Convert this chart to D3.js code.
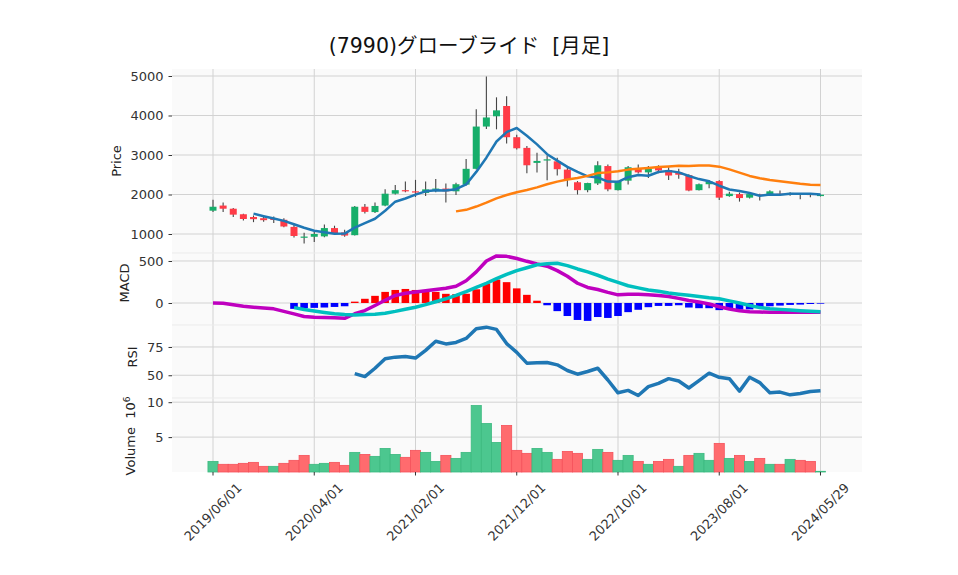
<!DOCTYPE html>
<html><head><meta charset="utf-8">
<script src="https://cdn.jsdelivr.net/npm/d3@7/dist/d3.min.js"></script>
<style>body{margin:0;background:#fff;} svg{display:block;}</style>
</head><body><svg id="c" width="958" height="575"></svg>
<script>
// ---------------- data ----------------
const titleText = "(7990)グローブライド  [月足]";
const tickIndex = [0, 10, 20, 30, 40, 50, 60];
const tickLabels = ["2019/06/01", "2020/04/01", "2021/02/01", "2021/12/01", "2022/10/01", "2023/08/01", "2024/05/29"];

const opens  = [1590,1720,1640,1500,1430,1400,1385,1360,1180,910, 930,940,1150,1040,970,1690,1555,1720,2020,2110, 2080,2040,2130,2150,2080,2250,2650,3720,3980,4240, 3450,3180,2800,2860,2840,2630,2310,2110,2280,2720, 2110,2350,2670,2560,2680,2620,2570,2490,2110,2260, 2340,1960,2010,1920,2000,2000,2020,1990,2020,2020, 1960];
const highs  = [1870,1800,1660,1510,1470,1430,1440,1400,1260,1030, 1050,1240,1210,1110,1710,1760,1800,2130,2240,2330, 2370,2330,2390,2280,2300,2900,4160,4990,4460,4490, 3510,3230,3060,2990,2930,2670,2340,2300,2840,2760, 2350,2720,2760,2720,2740,2690,2650,2510,2280,2370, 2360,2070,2050,2040,2020,2110,2100,2060,2040,2040, 2000];
const lows   = [1560,1560,1430,1340,1300,1310,1280,1170,910,760, 800,920,980,930,960,1520,1530,1700,2000,2060, 1940,1960,2060,1800,1990,2230,2630,3660,3650,3290, 3140,2540,2560,2360,2480,2200,2000,2060,2240,2080, 2100,2250,2530,2420,2540,2370,2400,2080,2100,2160, 1860,1940,1820,1900,1850,1990,1960,1970,1880,1930, 1950];
const closes = [1690,1640,1490,1380,1375,1350,1360,1190,950,935, 1000,1150,1010,960,1690,1560,1710,2020,2110,2090, 2050,2130,2150,2080,2260,2650,3720,3950,4130,3450, 3170,2740,2850,2890,2640,2370,2110,2290,2740,2130, 2340,2690,2560,2650,2610,2480,2500,2100,2260,2330, 1920,2020,1910,2010,1990,2080,1985,2040,1990,1985, 1995];
const volumes = [1520000,1100000,1100000,1240000,1380000,810000,810000,1240000,1670000,2380000, 1100000,1240000,1380000,950000,2810000,2520000,2240000,3380000,2520000,2100000, 3100000,2810000,1520000,2380000,1950000,2810000,9520000,6950000,4240000,6670000, 3100000,2670000,3380000,2810000,1810000,2950000,2670000,1810000,3240000,2810000, 1670000,2380000,1520000,1100000,1520000,1810000,810000,2380000,2670000,1670000, 4100000,1950000,2380000,1520000,1950000,1100000,1100000,1810000,1670000,1520000, 100000];

const ma5 = [null,null,null,null,1516,1451,1392,1332,1246,1157, 1084,1045,1009,1011,1162,1274,1386,1588,1818,1898, 1996,2080,2106,2100,2134,2254,2572,2932,3342,3580, 3684,3488,3268,3020,2858,2698,2572,2460,2430,2328, 2322,2438,2492,2474,2570,2598,2560,2468,2390,2334, 2222,2126,2088,2038,1970,2002,1995,2021,2017,2017, 2000];
const ma25 = [null,null,null,null,null,null,null,null,null,null, null,null,null,null,null,null,null,null,null,null, null,null,null,null,1573,1612,1695,1793,1903,1986, 2058,2114,2181,2258,2326,2381,2420,2471,2542,2560, 2591,2630,2652,2673,2694,2711,2726,2724,2731,2734, 2705,2637,2555,2470,2412,2368,2338,2306,2270,2244, 2240];

const macd = [0,-2,-20,-39,-50,-60,-70,-100,-130,-160, -171,-172,-175,-182,-128,-90,-30,32,90,115, 130,145,160,175,200,265,370,500,560,555, 530,496,465,438,385,318,235,185,160,126, 97,105,103,98,88,78,55,30,12,-12, -45,-72,-92,-104,-108,-110,-110,-110,-110,-110, -110];
const signal = [null,null,null,null,null,null,null,null,-55,-78, -95,-112,-128,-138,-142,-138,-133,-122,-100,-75, -50,-20,15,50,90,135,185,235,290,340, 385,420,455,468,473,445,405,370,330,285, 245,205,180,155,140,120,105,92,78,62, 50,25,0,-30,-55,-68,-76,-83,-92,-99, -105];
const hist = [null,null,null,null,null,null,null,null,-70,-62, -58,-54,-47,-39,16,50,85,132,155,167, 155,136,132,109,105,110,163,233,279,248, 174,97,27,-27,-97,-155,-202,-213,-167,-178, -155,-109,-81,-50,-35,-35,-27,-54,-62,-62, -85,-78,-78,-76,-58,-39,-31,-23,-19,-12, -8];
const rsi = [null,null,null,null,null,null,null,null,null,null, null,null,null,null,51.5,48.8,56.2,64.6,66,66.5, 65.2,72,80,77.7,79,82.5,91,92.5,90.5,78, 70.2,60.7,61,61.3,59.2,54.2,50.9,53.3,56.2,45.8, 34.5,36.6,32.1,39.9,42.9,47,44.9,38.7,45.2,51.8, 48.2,47,36,48.2,43.5,34.5,35.1,32.7,33.9,35.7, 36.3];

const priceTicks = [1000, 2000, 3000, 4000, 5000];
const macdTicks = [0, 500];
const rsiTicks = [50, 75];
const volTicks = [5, 10];

// ---------------- layout ----------------
const svg = d3.select("#c");
const L = 172, R = 862;
const P = {price: [69, 253], macd: [253, 325], rsi: [325, 398], vol: [398, 472]};
const fontMain = "'DejaVu Sans', 'Noto Sans CJK JP', sans-serif";

const x = d3.scaleLinear().domain([-4.05, 64.1]).range([L, R]);
const yP = d3.scaleLinear().domain([519, 5177]).range([P.price[1], P.price[0]]);
const yM = d3.scaleLinear().domain([-262, 595]).range([P.macd[1], P.macd[0]]);
const yR = d3.scaleLinear().domain([29.9, 94.4]).range([P.rsi[1], P.rsi[0]]);
const yV = d3.scaleLinear().domain([0, 10.6]).range([P.vol[1], P.vol[0]]);

const idx = d3.range(closes.length);
const gridColor = "#d2d2d2";

function panel(key, yScale, ticks, fmt) {
  const [t, b] = P[key];
  const g = svg.append("g");
  g.append("rect").attr("x", L).attr("y", t).attr("width", R - L).attr("height", b - t).attr("fill", "#fafafa");
  g.selectAll(null).data(ticks).enter().append("line")
    .attr("x1", L).attr("x2", R).attr("y1", d => yScale(d)).attr("y2", d => yScale(d))
    .attr("stroke", gridColor).attr("stroke-width", 1);
  g.selectAll(null).data(tickIndex).enter().append("line")
    .attr("x1", d => x(d)).attr("x2", d => x(d)).attr("y1", t).attr("y2", b)
    .attr("stroke", gridColor).attr("stroke-width", 1);
  const ax = d3.axisLeft(yScale).tickValues(ticks).tickSize(3.5).tickPadding(5).tickFormat(fmt || (d => d));
  const axg = svg.append("g").attr("transform", `translate(${L},0)`).call(ax);
  axg.select(".domain").remove();
  axg.selectAll("line").attr("stroke", "#333");
  axg.selectAll("text").attr("font-family", fontMain).attr("font-size", 13).attr("fill", "#333");
  return g;
}

panel("price", yP, priceTicks);
panel("macd", yM, macdTicks);
panel("rsi", yR, rsiTicks);
panel("vol", yV, volTicks);

[253, 325, 398].forEach(yy => svg.append("line").attr("x1", L).attr("x2", R).attr("y1", yy).attr("y2", yy).attr("stroke", "#ebebeb").attr("stroke-width", 1));

// ---------------- price candles ----------------
const upC = "#16ae6a", dnC = "#ff3b47";
const bw = 7;
const cg = svg.append("g");
cg.selectAll(null).data(idx).enter().append("line")
  .attr("x1", i => x(i)).attr("x2", i => x(i))
  .attr("y1", i => yP(highs[i])).attr("y2", i => yP(lows[i]))
  .attr("stroke", "#444").attr("stroke-width", 1.1);
cg.selectAll(null).data(idx).enter().append("rect")
  .attr("x", i => x(i) - bw / 2)
  .attr("y", i => yP(Math.max(opens[i], closes[i])))
  .attr("width", bw)
  .attr("height", i => Math.max(1.2, Math.abs(yP(opens[i]) - yP(closes[i]))))
  .attr("fill", i => closes[i] >= opens[i] ? upC : dnC);

function drawLine(arr, yScale, color, width) {
  svg.append("path").datum(idx)
    .attr("d", d3.line().defined(i => arr[i] != null).x(i => x(i)).y(i => yScale(arr[i])))
    .attr("fill", "none").attr("stroke", color).attr("stroke-width", width)
    .attr("stroke-linejoin", "round").attr("stroke-linecap", "butt");
}
drawLine(ma5, yP, "#1f77b4", 2.5);
drawLine(ma25, yP, "#ff7f0e", 2.5);

// ---------------- MACD ----------------
const hb = 7.6;
svg.append("g").selectAll(null).data(idx.filter(i => hist[i] != null)).enter().append("rect")
  .attr("x", i => x(i) - hb / 2)
  .attr("y", i => Math.min(yM(0), yM(hist[i])))
  .attr("width", hb)
  .attr("height", i => Math.abs(yM(hist[i]) - yM(0)))
  .attr("fill", i => hist[i] >= 0 ? "#ff0000" : "#0000ff");
drawLine(macd, yM, "#bf00bf", 3.5);
drawLine(signal, yM, "#00bfbf", 3.5);

// ---------------- RSI ----------------
drawLine(rsi, yR, "#1f77b4", 3.5);

// ---------------- Volume ----------------
const vw = 10.12;
svg.append("g").selectAll(null).data(idx).enter().append("rect")
  .attr("x", i => x(i) - vw / 2)
  .attr("y", i => yV(volumes[i] / 1e6))
  .attr("width", vw)
  .attr("height", i => yV(0) - yV(volumes[i] / 1e6))
  .attr("fill", i => (i === 0 || closes[i] >= closes[i - 1]) ? "#4cc78f" : "#ff6b6e")
  .attr("stroke", i => (i === 0 || closes[i] >= closes[i - 1]) ? "#3bb97f" : "#f5515a")
  .attr("stroke-width", 0.8);

// ---------------- X axis ----------------
const xg = svg.append("g");
xg.selectAll(null).data(tickIndex).enter().append("line")
  .attr("x1", d => x(d)).attr("x2", d => x(d)).attr("y1", P.vol[1]).attr("y2", P.vol[1] + 3.5)
  .attr("stroke", "#333").attr("stroke-width", 1);
xg.selectAll(null).data(tickIndex).enter().append("text")
  .attr("transform", (d) => `translate(${x(d)},${P.vol[1] + 40}) rotate(-45)`)
  .attr("text-anchor", "middle").attr("dominant-baseline", "central")
  .attr("font-family", fontMain).attr("font-size", 13).attr("fill", "#333")
  .text((d, k) => tickLabels[k]);

// ---------------- labels ----------------
function ylabel(txt, xx, yy) {
  return svg.append("text").attr("transform", `translate(${xx},${yy}) rotate(-90)`)
    .attr("text-anchor", "middle").attr("font-family", fontMain).attr("font-size", 13).attr("fill", "#222").text(txt);
}
ylabel("Price", 121, 161);
ylabel("MACD", 129, 283);
ylabel("RSI", 137, 357);
const vl = svg.append("text").attr("transform", `translate(135,436) rotate(-90)`)
  .attr("text-anchor", "middle").attr("font-family", fontMain).attr("font-size", 13).attr("fill", "#222")
  .style("white-space", "pre");
vl.append("tspan").text("Volume  10");
vl.append("tspan").attr("dy", -5).attr("font-size", 9).text("6");

svg.append("text").attr("x", 469).attr("y", 53).attr("text-anchor", "middle")
  .style("white-space", "pre")
  .attr("font-family", fontMain).attr("font-size", 20.5).attr("fill", "#111").text(titleText);
</script>
</body></html>
